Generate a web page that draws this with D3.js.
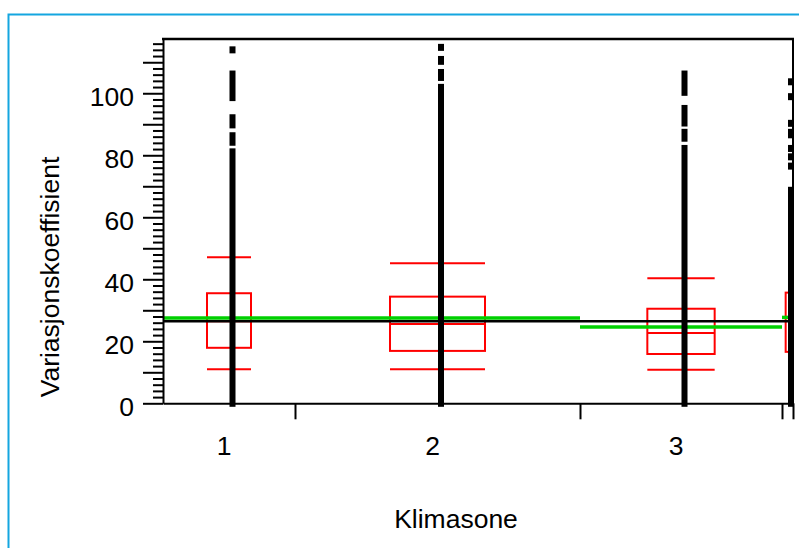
<!DOCTYPE html>
<html>
<head>
<meta charset="utf-8">
<script src="https://cdn.jsdelivr.net/npm/d3@7"></script>
<style>
  html, body { margin: 0; padding: 0; background: #fff; }
  svg { display: block; }
  text { font-family: "Liberation Sans", Arial, sans-serif; fill: #000; }
</style>
</head>
<body>
<svg id="chart" width="799" height="548"></svg>
<script>
// ---- data ----
const categories = ["1", "2", "3", "4"];
const groupN = [1320, 2850, 2020, 110];            // group sizes (x axis proportional)
const q10 = [11.0, 11.0, 10.8, null];              // lower whisker (10%)
const q25 = [17.9, 16.9, 15.9, 16.6];
const q50 = [26.5, 25.6, 22.7, null];
const q75 = [35.5, 34.4, 30.5, 35.7];
const q90 = [47.1, 45.2, 40.3, null];              // upper whisker (90%)
const groupMeans = [27.5, 27.5, 24.6, 27.7];
const grandMean = 26.45;
// observed point runs [low, high] per group (dense columns of points)
const pointRuns = [
  [[0, 81.1], [84.2, 86.3], [89.8, 92.1], [98.6, 106.2], [114.0, 114.0]],
  [[0, 101.9], [105.1, 106.7], [110.3, 110.9], [114.8, 114.8]],
  [[0, 82.2], [85.5, 87.4], [90.4, 95.1], [100.3, 106.2]],
  [[0, 68.7], [76.5, 76.5], [79.5, 79.5], [82.2, 82.2], [86.6, 87.4], [90.3, 90.3], [98.9, 98.9], [103.7, 103.7]]
];
const yTicksMajor = [0, 10, 20, 30, 40, 50, 60, 70, 80, 90, 100, 110];
const yTicksMinorStep = 2;
const yMax = 117.5;
const xTitle = "Klimasone";
const yTitle = "Variasjonskoeffisient";

// ---- layout ----
const svg = d3.select("#chart");
const L = 163, R = 793, T = 39, B = 403.3;
const FS = 26.5;

// blue outer border
svg.append("rect").attr("x", 8.5).attr("y", 14.5).attr("width", 1000).attr("height", 1000)
  .attr("fill", "none").attr("stroke", "#14a6e0").attr("stroke-width", 2);

const total = d3.sum(groupN);
const cum = [0]; groupN.forEach((n, i) => cum.push(cum[i] + n));
const x = d3.scaleLinear().domain([0, total]).range([L, R]);
const y = d3.scaleLinear().domain([0, yMax]).range([B, T]);

const groups = categories.map((c, i) => {
  const x0 = x(cum[i]), x1 = x(cum[i + 1]);
  const w = x1 - x0, cx = (x0 + x1) / 2;
  return { c, i, x0, x1, cx, bx0: cx - w / 6, bx1: cx + w / 6 };
});

const g = svg.append("g");

// red quantile boxes & whiskers
groups.forEach(d => {
  const i = d.i;
  const red = g.append("g").attr("stroke", "#ff0000").attr("stroke-width", 2).attr("fill", "none");
  red.append("rect").attr("x", d.bx0).attr("y", y(q75[i]))
    .attr("width", d.bx1 - d.bx0).attr("height", y(q25[i]) - y(q75[i]));
  [q10[i], q50[i], q90[i]].forEach(v => {
    if (v == null) return;
    red.append("line").attr("x1", d.bx0).attr("x2", d.bx1).attr("y1", y(v)).attr("y2", y(v));
  });
});

// green group means
groups.forEach(d => {
  g.append("line").attr("x1", d.x0).attr("x2", d.x1)
    .attr("y1", y(groupMeans[d.i])).attr("y2", y(groupMeans[d.i]))
    .attr("stroke", "#00d000").attr("stroke-width", 3.5);
});

// grand mean
g.append("line").attr("x1", L).attr("x2", R).attr("y1", y(grandMean)).attr("y2", y(grandMean))
  .attr("stroke", "#000").attr("stroke-width", 2.5);

// points (dense columns)
const half = 3.5, pw = 6, pdx = 3.5;
groups.forEach(d => {
  g.selectAll(null).data(pointRuns[d.i]).enter().append("rect")
    .attr("x", d.cx + pdx - pw / 2)
    .attr("y", r => y(r[1]) - half)
    .attr("width", pw)
    .attr("height", r => y(r[0]) - y(r[1]) + 2 * half)
    .attr("fill", "#000");
});

// y axis: minor ticks
const minorVals = d3.range(0, yMax, yTicksMinorStep).filter(v => v % 10 !== 0);
svg.append("g").attr("transform", `translate(${L},0)`)
  .call(d3.axisLeft(y).tickValues(minorVals).tickSize(10).tickSizeOuter(0).tickFormat(""))
  .call(a => a.select(".domain").remove())
  .call(a => a.selectAll("line").attr("stroke", "#000").attr("stroke-width", 2));
// y axis: major ticks + labels
svg.append("g").attr("transform", `translate(${L},0)`)
  .call(d3.axisLeft(y).tickValues(yTicksMajor).tickSize(20).tickSizeOuter(0).tickPadding(9)
    .tickFormat(v => v % 20 === 0 ? v : ""))
  .call(a => a.select(".domain").attr("stroke", "#000").attr("stroke-width", 2))
  .call(a => a.selectAll("line").attr("stroke", "#000").attr("stroke-width", 2))
  .call(a => a.selectAll("text").attr("font-size", FS).attr("dy", "0.45em")
    .style("font-family", '"Liberation Sans", Arial, sans-serif'));

// x axis: group boundary ticks
svg.append("g").attr("transform", `translate(0,${B})`)
  .call(d3.axisBottom(x).tickValues(cum.slice(1)).tickSize(16).tickSizeOuter(0).tickFormat(""))
  .call(a => a.select(".domain").attr("stroke", "#000").attr("stroke-width", 2))
  .call(a => a.selectAll("line").attr("stroke", "#000").attr("stroke-width", 2));
// x labels at group centres (too-narrow groups are not labelled)
svg.append("g").selectAll("text").data(groups.filter(d => d.x1 - d.x0 > 40)).enter().append("text")
  .attr("x", d => d.cx - 5).attr("y", 455)
  .attr("text-anchor", "middle").attr("font-size", FS).text(d => d.c);

// top & right frame
svg.append("line").attr("x1", L - 1).attr("x2", R + 1).attr("y1", T).attr("y2", T)
  .attr("stroke", "#000").attr("stroke-width", 2.5);
svg.append("line").attr("x1", R).attr("x2", R).attr("y1", T).attr("y2", B)
  .attr("stroke", "#000").attr("stroke-width", 2);

// titles
svg.append("text").attr("x", 456).attr("y", 528).attr("text-anchor", "middle")
  .attr("font-size", FS).text(xTitle);
svg.append("text").attr("transform", "translate(59,277) rotate(-90)")
  .attr("text-anchor", "middle").attr("font-size", FS).text(yTitle);
</script>
</body>
</html>
